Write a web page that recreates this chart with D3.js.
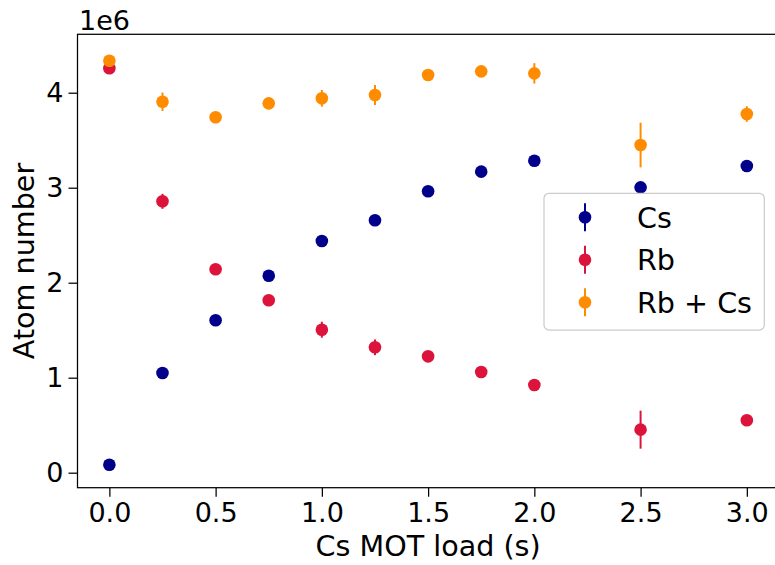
<!DOCTYPE html>
<html>
<head>
<meta charset="utf-8">
<script src="https://cdn.jsdelivr.net/npm/d3@7"></script>
<style>
  body { margin: 0; background: #fff; }
  text { font-family: "DejaVu Sans", sans-serif; }
</style>
</head>
<body>
<div id="chart"></div>
<script>
// load times (s)
const loadTimes = [0.0, 0.25, 0.5, 0.75, 1.0, 1.25, 1.5, 1.75, 2.0, 2.5, 3.0]

// atom numbers, units of 1e6
const csValues = [0.084, 1.049, 1.604, 2.074, 2.439, 2.657, 2.962, 3.169, 3.284, 3.004, 3.228]
const csErrors = [0.02, 0.03, 0.03, 0.03, 0.03, 0.03, 0.03, 0.03, 0.03, 0.03, 0.03]
const rbValues = [4.257, 2.857, 2.141, 1.815, 1.505, 1.320, 1.225, 1.060, 0.923, 0.453, 0.552]
const rbErrors = [0.03, 0.079, 0.04, 0.04, 0.084, 0.083, 0.04, 0.04, 0.04, 0.200, 0.04]
const sumValues = [4.337, 3.905, 3.741, 3.888, 3.941, 3.976, 4.186, 4.225, 4.204, 3.449, 3.776]
const sumErrors = [0.04, 0.097, 0.04, 0.05, 0.088, 0.105, 0.05, 0.05, 0.107, 0.235, 0.082]

const seriesNames = ['Cs', 'Rb', 'Rb + Cs']
const seriesColors = ['darkblue', 'crimson', 'darkorange']

const xTicks = [0.0, 0.5, 1.0, 1.5, 2.0, 2.5, 3.0]
const yTicks = [0, 1, 2, 3, 4]

const width = 775
const height = 565
const TICK_FONT = 27
const LABEL_FONT = 28.6

const svg = d3.select('#chart').append('svg')
  .attr('width', width)
  .attr('height', height)

const x = d3.scaleLinear().domain([-0.15, 3.15]).range([77.5, 778.7])
const y = d3.scaleLinear().domain([-0.158, 4.615]).range([487.7, 34.3])

// axes
const xAxis = svg.append('g')
  .attr('transform', `translate(0,${y.range()[0]})`)
  .call(d3.axisBottom(x).tickValues(xTicks).tickFormat(d3.format('.1f'))
    .tickSize(9).tickPadding(6).tickSizeOuter(0))
const yAxis = svg.append('g')
  .attr('transform', `translate(${x.range()[0]},0)`)
  .call(d3.axisLeft(y).tickValues(yTicks).tickFormat(d3.format('d'))
    .tickSize(9).tickPadding(5).tickSizeOuter(0))

for (const ax of [xAxis, yAxis]) {
  ax.select('.domain').remove()
  ax.selectAll('.tick line').attr('stroke', '#000').attr('stroke-width', 1.25)
  ax.selectAll('.tick text')
    .attr('fill', '#000')
    .style('font-size', TICK_FONT + 'px')
    .style('font-family', '"DejaVu Sans", sans-serif')
}

// spines
const [x0, x1] = x.range()
const [y0, y1] = y.range()
svg.append('rect')
  .attr('x', x0).attr('y', y1)
  .attr('width', x1 - x0).attr('height', y0 - y1)
  .attr('fill', 'none').attr('stroke', '#000').attr('stroke-width', 1.25)

// series
const series = [
  { values: csValues, errors: csErrors },
  { values: rbValues, errors: rbErrors },
  { values: sumValues, errors: sumErrors }
]

series.forEach((s, i) => {
  const pts = loadTimes.map((t, j) => ({ t: t, v: s.values[j], e: s.errors[j] }))
  const g = svg.append('g')
  g.selectAll('line')
    .data(pts)
    .enter().append('line')
    .attr('x1', d => x(d.t)).attr('x2', d => x(d.t))
    .attr('y1', d => y(d.v - d.e)).attr('y2', d => y(d.v + d.e))
    .attr('stroke', seriesColors[i])
    .attr('stroke-width', 2)
  g.selectAll('circle')
    .data(pts)
    .enter().append('circle')
    .attr('cx', d => x(d.t))
    .attr('cy', d => y(d.v))
    .attr('r', 6.3)
    .attr('fill', seriesColors[i])
})

// offset text
svg.append('text')
  .attr('x', 79).attr('y', 30)
  .style('font-size', TICK_FONT + 'px')
  .text('1e6')

// axis labels
svg.append('text')
  .attr('x', (x0 + x1) / 2).attr('y', 556)
  .attr('text-anchor', 'middle')
  .style('font-size', LABEL_FONT + 'px')
  .text('Cs MOT load (s)')

svg.append('text')
  .attr('transform', `translate(34,${(y0 + y1) / 2}) rotate(-90)`)
  .attr('text-anchor', 'middle')
  .style('font-size', LABEL_FONT + 'px')
  .text('Atom number')

// legend
const legend = svg.append('g').attr('transform', 'translate(544,193.3)')
legend.append('rect')
  .attr('width', 220.3).attr('height', 136.7)
  .attr('rx', 5)
  .attr('fill', '#fff').attr('fill-opacity', 0.8)
  .attr('stroke', '#cccccc').attr('stroke-width', 1.25)

const rows = legend.selectAll('g.row')
  .data(seriesNames)
  .enter().append('g')
  .attr('class', 'row')
  .attr('transform', (d, i) => `translate(41,${24 + i * 42.5})`)
rows.append('line')
  .attr('y1', -14).attr('y2', 14)
  .attr('stroke', (d, i) => seriesColors[i])
  .attr('stroke-width', 2)
rows.append('circle')
  .attr('r', 6.3)
  .attr('fill', (d, i) => seriesColors[i])
rows.append('text')
  .attr('x', 52).attr('dy', '0.36em')
  .style('font-size', LABEL_FONT + 'px')
  .text(d => d)
</script>
</body>
</html>
